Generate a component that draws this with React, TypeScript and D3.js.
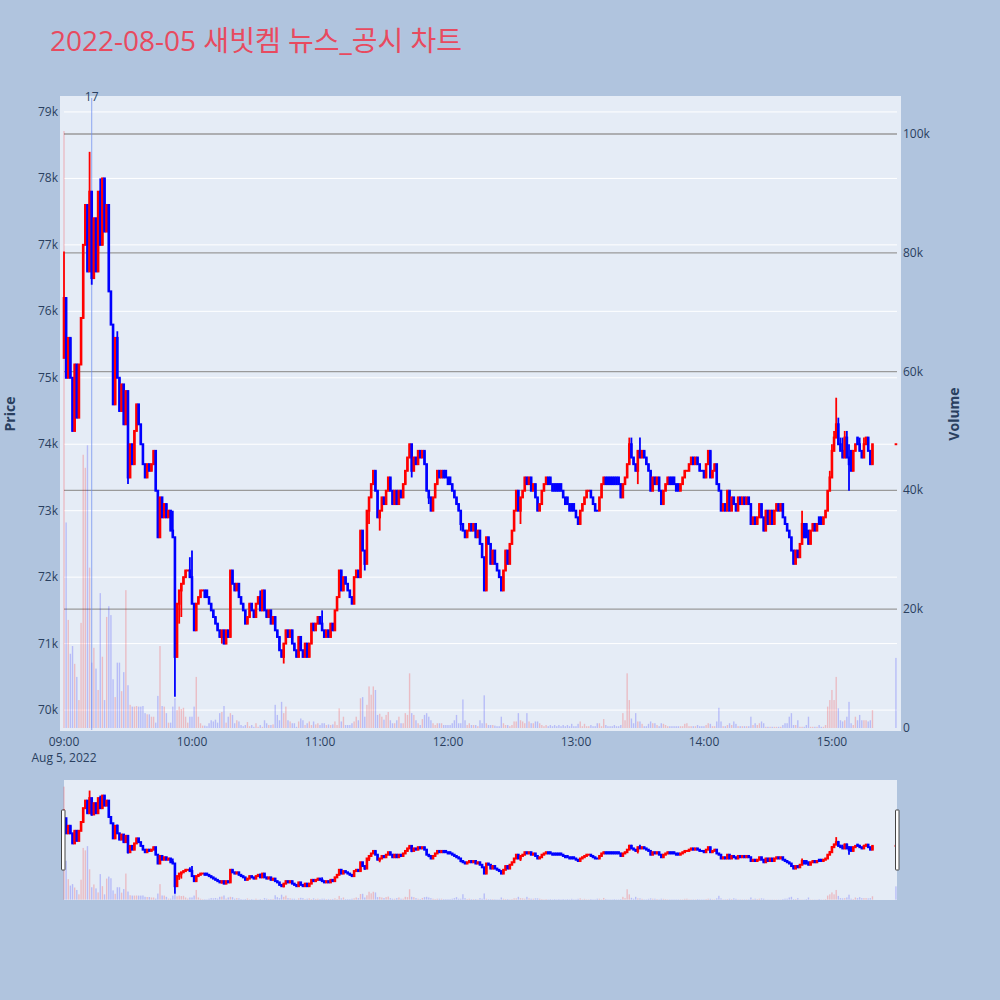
import React from 'react';
import * as d3 from 'd3';

const TITLE = '2022-08-05 새빗켐 뉴스_공시 차트';
const SESSION_START = new Date(2022, 7, 5, 9, 0);
const SESSION_END = new Date(2022, 7, 5, 15, 30, 30);

// per-minute closing prices from 09:00 to 15:19
const closes = [
  76200, 75000, 75600, 75000, 74200, 75200, 74400, 75200, 75900, 77000,
  77600, 76600, 77800, 76500, 77400, 76600, 77800, 77000, 78000, 77200,
  77600, 76300, 75800, 74600, 75600, 75000, 74500, 74900, 74300, 74800,
  73500, 74000, 73700, 74200, 74600, 74300, 74000, 73700, 73500, 73700,
  73600, 73700, 73900, 73300, 72600, 73200, 72900, 73100, 72900, 73000,
  72700, 72600, 70800, 71600, 71800, 71900, 72000, 72100, 72100, 72000,
  71600, 71200, 71600, 71700, 71800, 71800, 71700, 71700, 71600, 71500,
  71400, 71300, 71200, 71100, 71200, 71000, 71200, 71100, 72100, 71900,
  71800, 71900, 71700, 71600, 71500, 71300, 71400, 71600, 71500, 71400,
  71600, 71700, 71500, 71800, 71500, 71400, 71500, 71300, 71400, 71200,
  71100, 70900, 70800, 71000, 71200, 71100, 71200, 71000, 70900, 70800,
  71100, 70900, 70800, 71000, 70800, 71000, 71300, 71200, 71300, 71400,
  71300, 71200, 71100, 71200, 71100, 71300, 71200, 71500, 71700, 72100,
  71800, 72000, 71900, 71800, 71700, 71600, 72000, 72100, 72000, 72700,
  72400, 72200, 73000, 73200, 73400, 73600, 73300, 72900, 73000, 73200,
  73100, 73300, 73500, 73300, 73100, 73300, 73100, 73300, 73200, 73400,
  73600, 73800, 74000, 73600, 73800, 73700, 73900, 73800, 73900, 73700,
  73300, 73200, 73000, 73200, 73400, 73600, 73500, 73600, 73500, 73500,
  73400, 73400, 73300, 73200, 73100, 73000, 72800, 72700, 72600, 72700,
  72800, 72700, 72800, 72600, 72700, 72500, 72300, 71800, 72600, 72500,
  72200, 72400, 72200, 72100, 72000, 71800, 72100, 72400, 72200, 72500,
  72700, 73000, 73300, 73000, 73200, 73300, 73500, 73400, 73500, 73300,
  73400, 73200, 73000, 73100, 73300, 73400, 73500, 73400, 73400, 73300,
  73300, 73300, 73300, 73300, 73200, 73100, 73100, 73000, 73000, 73000,
  72900, 72800, 73000, 73100, 73200, 73300, 73300, 73200, 73100, 73000,
  73000, 73200, 73400, 73500, 73400, 73400, 73400, 73400, 73400, 73400,
  73400, 73200, 73400, 73500, 73700, 74000, 73800, 73700, 73600, 73900,
  73800, 73900, 73800, 73700, 73600, 73300, 73500, 73400, 73500, 73300,
  73100, 73300, 73400, 73500, 73400, 73400, 73400, 73300, 73300, 73400,
  73500, 73600, 73600, 73700, 73800, 73700, 73800, 73700, 73600, 73600,
  73500, 73700, 73900, 73500, 73600, 73700, 73400, 73300, 73000, 73100,
  73000, 73300, 73000, 73200, 73100, 73000, 73200, 73100, 73200, 73100,
  73200, 73100, 72800, 72900, 72800, 72900, 73100, 72900, 72700, 73000,
  72800, 73000, 72800, 73000, 73100, 73000, 73100, 72900, 72800, 72700,
  72600, 72400, 72200, 72400, 72300, 72500, 72800, 72600, 72600, 72500,
  72700, 72800, 72700, 72800, 72800, 72800, 72900, 73000, 73300, 73500,
  73900, 74100, 74300, 74000, 73900, 73800, 74100, 73800, 73700, 73600,
  73900, 74000, 74000, 73900, 73800, 74000, 74100, 73900, 73700, 74000,
];

// per-minute traded volume from 09:00 to 15:19
const volumes = [
  100500, 34600, 18200, 12500, 13800, 10800, 8600, 4700, 17700, 46000,
  43800, 47600, 27000, 11000, 13500, 10000, 6400, 22700, 12000, 4700,
  18700, 20500, 19000, 8200, 5200, 11000, 11000, 6200, 9400, 23200,
  7200, 3900, 3600, 3600, 3700, 3600, 3600, 3700, 2500, 2300,
  2300, 1900, 1900, 900, 5400, 13800, 3700, 3600, 2500, 900,
  900, 3600, 5000, 3000, 3600, 3200, 3400, 1900, 900, 1900,
  1900, 3600, 8600, 1900, 800, 400, 400, 300, 800, 1300,
  1100, 1400, 900, 2500, 2700, 3700, 900, 1900, 2500, 2200,
  800, 1300, 1100, 500, 300, 500, 1000, 300, 500, 200,
  800, 200, 500, 200, 1300, 800, 500, 500, 600, 3900,
  2200, 1300, 4400, 2500, 3600, 1300, 1100, 800, 800, 200,
  1100, 1600, 1300, 500, 800, 1100, 500, 1100, 600, 800,
  500, 800, 800, 500, 600, 500, 600, 1100, 500, 3300,
  1100, 1900, 500, 500, 500, 800, 1100, 1900, 1300, 5000,
  5200, 1900, 3900, 7000, 5600, 7000, 6400, 2200, 2400, 1900,
  1400, 2200, 2700, 1300, 800, 800, 1300, 1900, 800, 800,
  2500, 2200, 9200, 2500, 2200, 1300, 800, 500, 1500, 2200,
  2500, 1900, 1300, 800, 500, 800, 800, 800, 500, 500,
  500, 500, 800, 1300, 2200, 800, 800, 4800, 1300, 500,
  800, 500, 500, 500, 300, 1300, 800, 5500, 800, 500,
  500, 500, 400, 300, 300, 1900, 800, 500, 500, 300,
  500, 1100, 1100, 2500, 1300, 1100, 800, 2500, 1100, 800,
  800, 1100, 1100, 800, 500, 300, 500, 300, 500, 300,
  500, 300, 500, 300, 500, 300, 500, 300, 700, 300,
  300, 700, 1100, 300, 700, 300, 300, 500, 300, 300,
  800, 800, 300, 1500, 500, 300, 300, 300, 500, 300,
  300, 500, 2500, 1300, 9200, 4700, 1600, 800, 2500, 1100,
  1100, 700, 300, 300, 700, 1100, 800, 800, 500, 300,
  800, 700, 500, 300, 300, 300, 300, 300, 300, 300,
  300, 700, 800, 300, 300, 300, 300, 500, 300, 300,
  300, 500, 800, 700, 300, 300, 1100, 3400, 1100, 300,
  300, 500, 800, 500, 1100, 700, 300, 300, 300, 300,
  300, 300, 1900, 500, 800, 500, 800, 1100, 800, 200,
  200, 200, 200, 200, 200, 200, 200, 500, 800, 800,
  1900, 2500, 500, 500, 1300, 200, 200, 200, 500, 1900,
  200, 200, 200, 200, 500, 200, 200, 500, 3600, 4700,
  6400, 4700, 8600, 3300, 1300, 1100, 1300, 1900, 4400, 800,
  500, 1900, 1300, 2200, 1300, 1300, 1300, 1100, 1300, 3000,
];

// opens that differ from the previous minute's close (minute index -> price)
const openOverrides = {
  0: 75300, 67: 71800, 179: 73600, 181: 73500,
  228: 73500, 230: 73400, 231: 73400, 232: 73400, 233: 73400, 236: 73200, 238: 73100, 239: 73100,
  255: 73500, 256: 73500, 257: 73500, 258: 73500, 259: 73500, 260: 73500,
  285: 73500, 286: 73500, 288: 73400,
  348: 72800, 349: 72700, 354: 72900, 355: 72900, 369: 73900, 372: 74100,
};

// wick extremes beyond the candle body (minute index -> price)
const highOverrides = {
  0: 76900, 12: 78400, 17: 78000, 19: 77900, 25: 75700, 51: 73000, 59: 72300, 60: 72400,
  79: 72100, 92: 71800, 121: 71500, 130: 72100, 140: 72700, 265: 74100, 266: 74100,
  270: 74100, 302: 73900, 346: 73000, 359: 73600, 360: 74000, 361: 74200, 362: 74700,
  363: 74400, 364: 74100, 365: 74100, 366: 74200, 367: 74200, 368: 74000, 373: 74100,
  375: 74100, 377: 74000,
};
const lowOverrides = {
  13: 76400, 30: 73400, 52: 70200, 54: 71300, 55: 71400, 74: 71000, 103: 70700,
  141: 72100, 143: 72800, 148: 72700, 163: 73500, 171: 73100, 186: 72700, 214: 72800,
  269: 73400, 368: 73300,
};

// 15:30 closing auction
const closingMinute = 390;
const closingPrice = 74000;
const closingVolume = 11800;

const priceTicks = [70000, 71000, 72000, 73000, 74000, 75000, 76000, 77000, 78000, 79000];
const volumeTicks = [0, 20000, 40000, 60000, 80000, 100000];
const hourTicks = [9, 10, 11, 12, 13, 14, 15];
const newsMarkers = [{ minute: 13, label: '17' }];

const PRICE_DOMAIN = [69700, 79240];
const VOLUME_DOMAIN = [-340, 106400];

const RED = '#ff0000';
const BLUE = '#0000ff';
const FONT = "'Open Sans', 'Noto Sans CJK KR', verdana, arial, sans-serif";
const AXIS_COLOR = '#2a3f5f';

const minuteDate = (m) => new Date(SESSION_START.getTime() + m * 60000);

function buildCandles() {
  const out = [];
  let prevDir = true;
  const n = closes.length;
  for (let i = 0; i < n; i++) {
    const c = closes[i];
    const o = openOverrides[i] !== undefined ? openOverrides[i] : closes[i - 1];
    const h = Math.max(o, c, highOverrides[i] ?? -Infinity);
    const l = Math.min(o, c, lowOverrides[i] ?? Infinity);
    let inc;
    if (c > o) inc = true;
    else if (c < o) inc = false;
    else inc = prevDir;
    prevDir = inc;
    out.push({ t: minuteDate(i), o, h, l, c, v: volumes[i], inc });
  }
  out.push({
    t: minuteDate(closingMinute),
    o: closingPrice, h: closingPrice, l: closingPrice, c: closingPrice,
    v: closingVolume, inc: prevDir, volBlue: true,
  });
  return out;
}

const candles = buildCandles();

function Candles({ x, y, keyPrefix }) {
  return (
    <g>
      {candles.map((d, i) => {
        const col = d.inc ? RED : BLUE;
        const cx = x(d.t);
        const yTop = y(Math.max(d.o, d.c));
        const yBot = y(Math.min(d.o, d.c));
        const bh = Math.max(yBot - yTop, 0);
        return (
          <g key={keyPrefix + i}>
            <line x1={cx} x2={cx} y1={y(d.h)} y2={y(d.l)} stroke={col} strokeWidth={1.8} />
            <rect x={cx - 1.3} y={yTop - 1} width={2.6} height={bh + 2} fill={col} />
          </g>
        );
      })}
    </g>
  );
}

function VolumeBars({ x, yv, keyPrefix }) {
  return (
    <g>
      {candles.map((d, i) => {
        const col = d.volBlue ? BLUE : d.inc ? RED : BLUE;
        const top = yv(d.v);
        return (
          <rect
            key={keyPrefix + i}
            x={x(d.t) - 0.7}
            y={top}
            width={1.4}
            height={Math.max(yv(0) - top, 0)}
            fill={col}
            opacity={0.2}
          />
        );
      })}
    </g>
  );
}

export default function App() {
  const left = 64;
  const right = 897;
  const top = 96;
  const bottom = 730;

  const x = d3.scaleTime().domain([SESSION_START, SESSION_END]).range([left, right]);
  const y = d3.scaleLinear().domain(PRICE_DOMAIN).range([bottom, top]);
  const yv = d3.scaleLinear().domain(VOLUME_DOMAIN).range([bottom, top]);

  const sTop = 780;
  const sBottom = 900;
  const ys = d3.scaleLinear().domain(PRICE_DOMAIN).range([sBottom, sTop]);
  const yvs = d3.scaleLinear().domain(VOLUME_DOMAIN).range([sBottom, sTop]);

  const fmtK = (v) => (v === 0 ? '0' : `${v / 1000}k`);
  const fmtTime = d3.timeFormat('%H:%M');

  return (
    <svg
      width={1000}
      height={1000}
      style={{ position: 'absolute', left: 0, top: 0, display: 'block' }}
      fontFamily={FONT}
    >
      <rect x={0} y={0} width={1000} height={1000} fill="#b0c4de" />

      <text x={50} y={51} fontSize={28} fill="#e84a5f" fontFamily={FONT}>
        {TITLE}
      </text>

      {/* main plot */}
      <rect x={60} y={top} width={841} height={bottom - top + 1} fill="#e5ecf6" />

      {priceTicks.map((p) => (
        <line key={'pg' + p} x1={left} x2={right} y1={y(p)} y2={y(p)} stroke="#ffffff" strokeWidth={1} />
      ))}
      {volumeTicks.filter((v) => v > 0).map((v) => (
        <line key={'vg' + v} x1={left} x2={right} y1={yv(v)} y2={yv(v)} stroke="#9a9a9a" strokeWidth={1.3} />
      ))}

      <VolumeBars x={x} yv={yv} keyPrefix="mv" />

      {newsMarkers.map((n) => (
        <g key={'news' + n.minute}>
          <line
            x1={x(minuteDate(n.minute))}
            x2={x(minuteDate(n.minute))}
            y1={top + 2}
            y2={bottom}
            stroke="#6f8ff0"
            strokeOpacity={0.75}
            strokeWidth={1}
          />
          <text x={x(minuteDate(n.minute))} y={101} fontSize={12} fill={AXIS_COLOR} textAnchor="middle">
            {n.label}
          </text>
        </g>
      ))}

      <Candles x={x} y={y} keyPrefix="mc" />

      {/* price axis labels */}
      {priceTicks.map((p) => (
        <text key={'pl' + p} x={58} y={y(p) + 4} fontSize={12} fill={AXIS_COLOR} textAnchor="end">
          {fmtK(p)}
        </text>
      ))}
      {/* volume axis labels */}
      {volumeTicks.map((v) => (
        <text key={'vl' + v} x={903} y={yv(v) + 4} fontSize={12} fill={AXIS_COLOR} textAnchor="start">
          {fmtK(v)}
        </text>
      ))}
      {/* time axis labels */}
      {hourTicks.map((h) => {
        const d = new Date(2022, 7, 5, h, 0);
        return (
          <text key={'xl' + h} x={x(d)} y={746} fontSize={12} fill={AXIS_COLOR} textAnchor="middle">
            {fmtTime(d)}
          </text>
        );
      })}
      <text x={x(SESSION_START)} y={762} fontSize={12} fill={AXIS_COLOR} textAnchor="middle">
        Aug 5, 2022
      </text>

      <text
        transform="translate(15,414) rotate(-90)"
        fontSize={14}
        fontWeight="bold"
        fill={AXIS_COLOR}
        textAnchor="middle"
      >
        Price
      </text>
      <text
        transform="translate(959,414) rotate(-90)"
        fontSize={14}
        fontWeight="bold"
        fill={AXIS_COLOR}
        textAnchor="middle"
      >
        Volume
      </text>

      {/* range slider */}
      <rect x={left} y={sTop} width={right - left} height={sBottom - sTop} fill="#e5ecf6" />
      <VolumeBars x={x} yv={yvs} keyPrefix="sv" />
      <Candles x={x} y={ys} keyPrefix="sc" />
      <rect x={61.5} y={810} width={3.5} height={60} fill="#ffffff" stroke="#444" strokeWidth={1} rx={0.5} />
      <rect x={895.5} y={810} width={3.5} height={60} fill="#ffffff" stroke="#444" strokeWidth={1} rx={0.5} />
    </svg>
  );
}
